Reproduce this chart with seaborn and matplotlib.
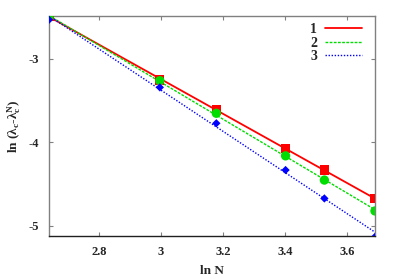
import numpy as np
import pandas as pd
import matplotlib
matplotlib.use("Agg")
import matplotlib.pyplot as plt
import seaborn as sns

# data
ln_n = [2.639, 2.996, 3.178, 3.401, 3.526, 3.689]
curve1 = [-2.485, -3.25, -3.61, -4.075, -4.33, -4.67]
curve2 = [-2.50, -3.26, -3.65, -4.16, -4.45, -4.82]
curve3 = [-2.53, -3.34, -3.77, -4.33, -4.67, -5.13]
labels = ["1", "2", "3"]
colors = ["#ff0000", "#00dd00", "#0000ff"]
markers = ["s", "o", "D"]
msizes = [45, 45, 18]
dashes = [(None, None), (2, 1), (1, 1.2)]

sns.set_style("ticks")
plt.rcParams["font.family"] = ["Liberation Serif", "DejaVu Serif"]
plt.rcParams["font.weight"] = "bold"
plt.rcParams["mathtext.fontset"] = "custom"
plt.rcParams["mathtext.rm"] = "Liberation Serif:bold"
plt.rcParams["mathtext.it"] = "Liberation Serif:bold"
plt.rcParams["mathtext.default"] = "regular"

fig = plt.figure(figsize=(3.99, 2.79), dpi=100)
ax = fig.add_axes([0.1228, 0.1541, 0.817, 0.7886])

rows = []
for lab, ys in zip(labels, [curve1, curve2, curve3]):
    for x, y in zip(ln_n, ys):
        rows.append({"x": x, "y": y, "s": lab})
df = pd.DataFrame(rows)

xfit = np.linspace(ln_n[0], ln_n[-1], 50)
for i, lab in enumerate(labels):
    sub = df[df.s == lab]
    k, b = np.polyfit(sub.x, sub.y, 1)
    fit = pd.DataFrame({"x": xfit, "y": k * xfit + b})
    sns.lineplot(data=fit, x="x", y="y", ax=ax, color=colors[i], lw=1.3 if i == 0 else 1.0,
                 label=lab)
    ln = ax.lines[-1]
    if dashes[i][0] is not None:
        ln.set_dashes(dashes[i])
    sns.scatterplot(data=sub, x="x", y="y", ax=ax, color=colors[i], marker=markers[i],
                    s=msizes[i], edgecolor="none", zorder=3, legend=False)

ax.set_xlim(2.639, 3.689)
ax.set_ylim(-5.12, -2.485)
ax.set_xticks([2.8, 3.0, 3.2, 3.4, 3.6])
ax.set_xticklabels(["2.8", "3", "3.2", "3.4", "3.6"], fontweight="bold")
ax.set_yticks([-3, -4, -5])
ax.set_yticklabels(["-3", "-4", "-5"], fontweight="bold")
ax.tick_params(direction="in", top=True, right=True, length=3, width=0.8,
               color="#808080", labelsize=9, pad=7)
for sp in ax.spines.values():
    sp.set_visible(True)
    sp.set_color("#808080")
    sp.set_linewidth(1.0)
ax.spines["bottom"].set_color("#202020")

ax.set_xlabel("ln N", fontsize=9.5, fontweight="bold", labelpad=5)
ax.set_ylabel(r"ln ($\lambda_c$-$\lambda_c^N$)", fontsize=9.5, fontweight="bold", labelpad=4)

leg = ax.legend(loc="upper right", frameon=False, markerfirst=False, fontsize=10,
                handlelength=2.6, handletextpad=0.6, labelspacing=0.05,
                borderaxespad=0.1, bbox_to_anchor=(0.98, 1.0))
for t in leg.get_texts():
    t.set_fontweight("bold")

fig.savefig("out.png", dpi=100)
